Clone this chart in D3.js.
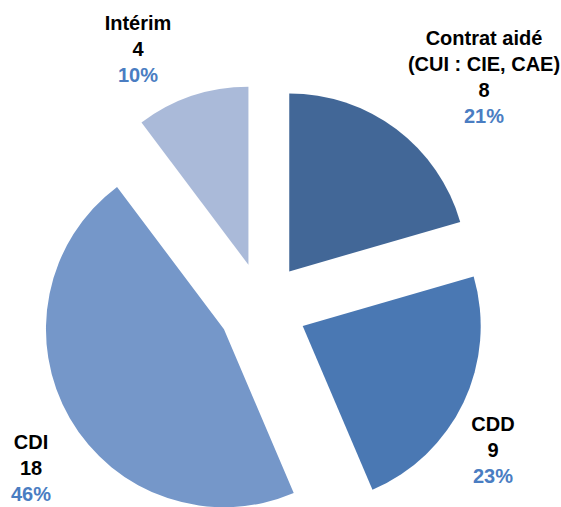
<!DOCTYPE html>
<html><head><meta charset="utf-8">
<script src="https://cdn.jsdelivr.net/npm/d3@7"></script>
<style>html,body{margin:0;padding:0;background:#fff;}svg{display:block;}</style>
</head><body>
<svg id="chart" width="561" height="507"></svg>
<script>
const categories = ["Contrat aidé\n(CUI : CIE, CAE)", "CDD", "CDI", "Intérim"];
const values = [8, 9, 18, 4];
const colors = ["#426797", "#4a78b3", "#7597c9", "#aabad9"];

const W = 561, H = 507;
const cx = 262.5, cy = 307, R = 178, explode = 44.5;
// label block centers (layout only)
const labelCenters = [[484, 77], [493, 450], [31, 468], [138, 49]];

const svg = d3.select("#chart");
const total = d3.sum(values);
const pie = d3.pie().sort(null).value(d => d)(values);
const arc = d3.arc().innerRadius(0).outerRadius(R);
const pct = d3.format(".0%");

const g = svg.append("g").attr("transform", `translate(${cx},${cy})`);
g.selectAll("path").data(pie).enter().append("path")
  .attr("d", arc)
  .attr("fill", (d, i) => colors[i])
  .attr("transform", d => {
    const a = (d.startAngle + d.endAngle) / 2;
    return `translate(${explode * Math.sin(a)},${-explode * Math.cos(a)})`;
  });

const lh = 26;
pie.forEach((d, i) => {
  const lines = categories[i].split("\n").map(t => ({t, c: "#000"}));
  lines.push({t: String(values[i]), c: "#000"});
  lines.push({t: pct(values[i] / total), c: "#4a7dc2"});
  const n = lines.length;
  const [lx, ly] = labelCenters[i];
  const t = svg.append("text")
    .attr("text-anchor", "middle")
    .attr("font-family", "'Liberation Sans', Arial, sans-serif")
    .attr("font-weight", "bold")
    .attr("font-size", 20);
  lines.forEach((l, k) => {
    t.append("tspan")
      .attr("x", lx)
      .attr("y", ly + (k - (n - 1) / 2) * lh + 7)
      .attr("fill", l.c)
      .text(l.t);
  });
});
</script>
</body></html>
